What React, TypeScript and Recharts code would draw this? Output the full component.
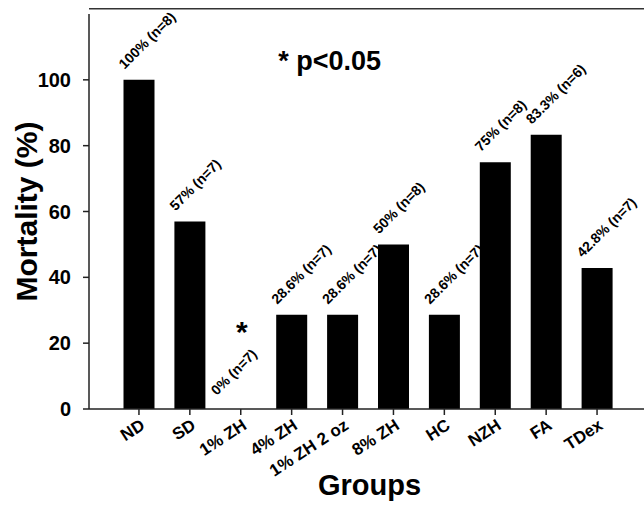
import { BarChart, Bar, XAxis, YAxis, LabelList, Label, ReferenceDot, ReferenceLine } from 'recharts';

const groups = ['ND', 'SD', '1% ZH', '4% ZH', '1% ZH 2 oz', '8% ZH', 'HC', 'NZH', 'FA', 'TDex'];
const mortality = [100, 57, 0, 28.6, 28.6, 50, 28.6, 75, 83.3, 42.8];
const pctLabels = ['100%', '57%', '0%', '28.6%', '28.6%', '50%', '28.6%', '75%', '83.3%', '42.8%'];
const nCounts = [8, 7, 7, 7, 7, 8, 7, 8, 6, 7];
const yTicks = [0, 20, 40, 60, 80, 100];

const data = groups.map((g, i) => ({
  group: g,
  mortality: mortality[i],
  label: `${pctLabels[i]} (n=${nCounts[i]})`,
}));

const FONT = '"Liberation Sans", Arial, sans-serif';

function GroupTick({ x, y, payload }: any) {
  const tx = Number(x) + 7;
  const ty = Number(y) + 11;
  return (
    <g transform={`translate(${tx},${ty}) rotate(-33)`}>
      <text x={0} y={0} textAnchor="end" fontSize={17} fontWeight="bold" fontFamily={FONT} fill="#000">
        {payload.value}
      </text>
    </g>
  );
}

// rotated percentage tag above a bar
function tag(tx: number, ty: number, value: string) {
  return (
    <g transform={`translate(${tx},${ty}) rotate(-45)`}>
      <text x={0} y={0} textAnchor="start" fontSize={14} fontWeight="bold" fontFamily={FONT} fill="#000">
        {value}
      </text>
    </g>
  );
}

function BarTag({ x, y, value }: any) {
  return tag(Number(x) + 1, Number(y) - 10, value);
}

export default function App() {
  return (
    <div style={{ position: 'absolute', left: 0, top: 0, width: 644, height: 505, background: '#fff' }}>
      <BarChart width={644} height={505} data={data} margin={{ top: 14, right: 0, left: 0, bottom: 0 }}>
        <XAxis
          dataKey="group"
          interval={0}
          tick={<GroupTick />}
          tickSize={6}
          height={96}
          padding={{ left: 24.5, right: 21.5 }}
          axisLine={{ stroke: '#222', strokeWidth: 1.5 }}
          tickLine={{ stroke: '#222', strokeWidth: 1.5 }}
        >
          <Label
            content={({ viewBox }: any) => (
              <text
                x={viewBox.x + viewBox.width / 2 + 3}
                y={495}
                textAnchor="middle"
                fontSize={29}
                fontWeight="bold"
                fontFamily={FONT}
                fill="#000"
              >
                Groups
              </text>
            )}
          />
        </XAxis>
        <YAxis
          width={89}
          domain={[0, 120]}
          ticks={yTicks}
          tickSize={6}
          tickMargin={12}
          tick={{ fontSize: 20, fontWeight: 'bold', fill: '#000', fontFamily: FONT }}
          axisLine={{ stroke: '#222', strokeWidth: 1.5 }}
          tickLine={{ stroke: '#222', strokeWidth: 1.5 }}
        >
          <Label
            content={({ viewBox }: any) => {
              const cy = viewBox.y + viewBox.height / 2;
              return (
                <g transform={`translate(37,${cy}) rotate(-90)`}>
                  <text x={0} y={0} textAnchor="middle" fontSize={30} fontWeight="bold" fontFamily={FONT} fill="#000">
                    Mortality (%)
                  </text>
                </g>
              );
            }}
          />
        </YAxis>
        <ReferenceLine y={121.6} stroke="#333" strokeWidth={1.5} ifOverflow="visible" />
        <Bar dataKey="mortality" fill="#000" barSize={31} isAnimationActive={false}>
          <LabelList dataKey="label" content={<BarTag />} />
        </Bar>
        <ReferenceDot
          x="1% ZH"
          y={0}
          r={0}
          fill="none"
          stroke="none"
          ifOverflow="visible"
          label={<Label content={({ viewBox }: any) => tag(viewBox.x - 24, viewBox.y - 13, data[2].label)} />}
        />
        <ReferenceDot
          x="1% ZH"
          y={25.5}
          r={0}
          fill="none"
          stroke="none"
          ifOverflow="visible"
          label={
            <Label
              content={({ viewBox }: any) => (
                <text x={viewBox.x + 1} y={viewBox.y + 17} textAnchor="middle" fontSize={30} fontWeight="bold" fontFamily={FONT} fill="#000">
                  *
                </text>
              )}
            />
          }
        />
        <ReferenceDot
          x="1% ZH 2 oz"
          y={103}
          r={0}
          fill="none"
          stroke="none"
          ifOverflow="visible"
          label={
            <Label
              content={({ viewBox }: any) => (
                <text x={viewBox.x - 13} y={viewBox.y} textAnchor="middle" fontSize={27} fontWeight="bold" fontFamily={FONT} fill="#000">
                  * p&lt;0.05
                </text>
              )}
            />
          }
        />
      </BarChart>
    </div>
  );
}
